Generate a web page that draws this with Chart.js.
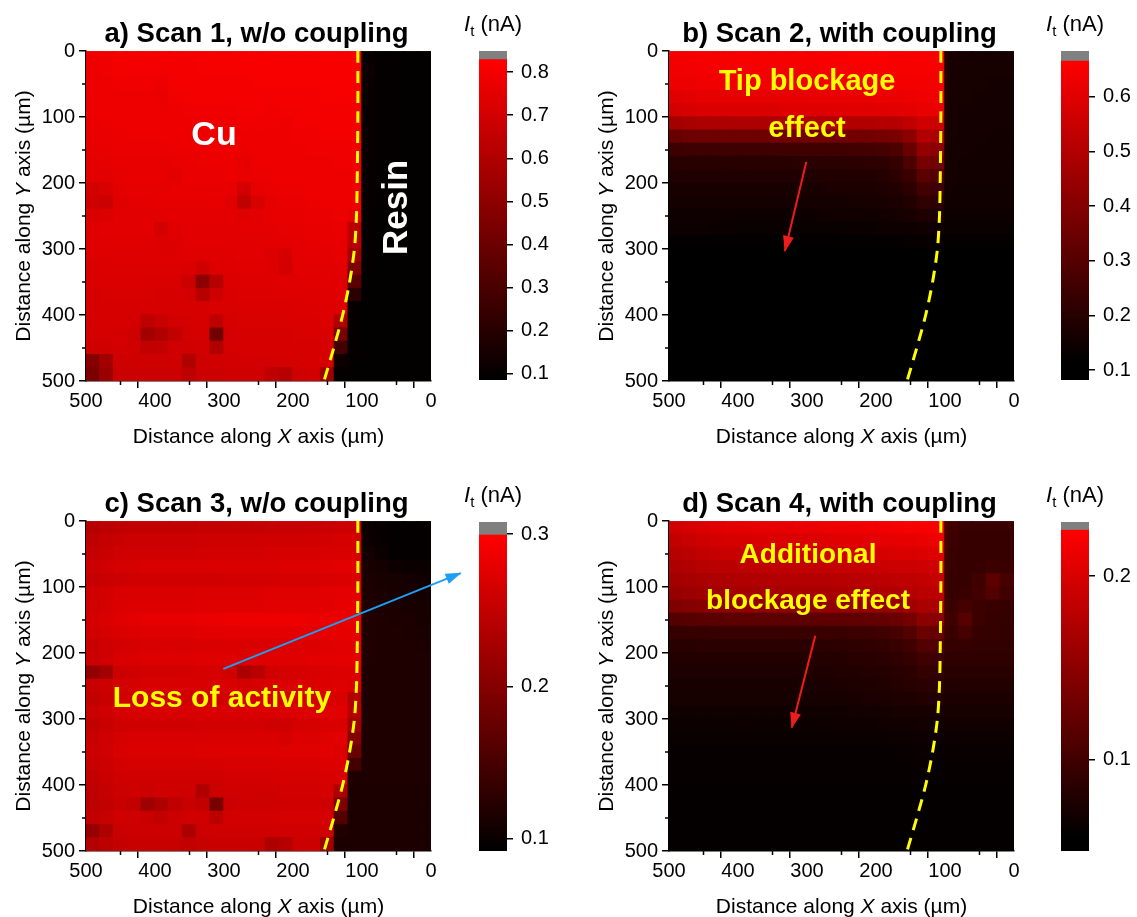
<!DOCTYPE html>
<html><head><meta charset="utf-8">
<script src="https://cdn.jsdelivr.net/npm/chart.js@4.4.1/dist/chart.umd.min.js"></script>
<style>html,body{margin:0;padding:0;background:#fff;}#wrap{position:relative;width:1137px;height:917px;overflow:hidden;background:#fff;}canvas{position:absolute;}</style>
</head><body><div id="wrap"></div>
<script>
// ---- grid (cell centres, µm) ----
const xCells = [490,470,450,430,410,390,370,350,330,310,290,270,250,230,210,190,170,150,130,110,90,70,50,30,10];
const yCells = [10,30,50,70,90,110,130,150,170,190,210,230,250,270,290,310,330,350,370,390,410,430,450,470,490];

// ---- tip current, pA (rows top->bottom, columns x=490 -> x=10) ----
const scan1 = [
[785,790,795,795,800,800,800,800,805,805,805,805,805,810,810,810,810,810,805,805,110,100,95,95,95],
[785,790,795,795,800,795,800,800,805,805,805,805,810,810,810,810,810,810,810,810,120,100,95,95,95],
[780,785,790,790,790,780,795,800,800,800,800,800,805,805,805,805,805,810,810,810,115,100,95,95,95],
[775,780,785,785,780,770,790,795,795,795,795,795,800,795,800,800,800,805,805,805,110,100,95,95,95],
[775,780,780,780,780,775,785,790,790,790,790,795,795,790,795,795,800,800,800,800,110,100,95,95,95],
[770,775,780,780,780,780,780,785,785,785,785,790,790,790,780,795,795,800,800,800,110,100,95,95,95],
[765,770,775,775,775,775,780,780,780,780,780,785,785,785,785,790,790,795,795,795,110,100,95,95,95],
[760,765,770,770,770,770,775,775,775,780,780,775,780,780,785,785,790,790,790,790,110,100,95,95,95],
[755,760,765,765,765,760,765,770,775,775,775,760,775,780,780,780,785,785,790,790,110,100,95,95,95],
[745,750,760,760,765,760,755,770,770,770,775,770,775,775,780,780,780,785,785,785,105,100,95,95,95],
[700,720,755,760,760,760,765,765,765,765,760,700,760,770,775,775,780,780,785,785,105,100,95,95,95],
[690,680,740,755,755,760,760,760,760,760,740,650,720,760,770,770,775,775,780,780,105,100,95,95,95],
[720,730,750,750,750,755,755,755,755,755,755,740,750,760,765,765,770,770,775,760,100,95,95,95,95],
[740,745,745,745,745,700,740,750,750,750,750,755,755,755,760,760,765,765,770,635,100,95,95,95,95],
[735,740,740,740,740,730,735,745,745,745,745,750,750,745,755,755,760,760,765,630,100,95,95,95,95],
[730,735,735,735,735,735,735,740,740,740,740,745,745,730,710,750,755,755,760,560,100,95,95,95,95],
[725,730,730,730,730,730,730,725,690,735,735,740,740,735,700,745,750,750,755,460,100,95,95,95,95],
[720,725,725,725,725,720,720,680,500,620,730,735,735,735,740,740,740,745,740,350,95,95,95,95,95],
[715,720,720,720,720,715,715,700,620,690,725,730,730,730,735,735,735,740,740,210,95,95,95,95,95],
[710,715,715,715,710,710,710,715,715,720,720,725,725,725,725,730,730,735,735,100,95,95,95,95,95],
[705,710,710,705,640,670,700,705,710,640,715,720,720,720,720,725,725,730,600,100,95,95,95,95,95],
[700,705,705,690,560,600,650,700,705,420,700,715,715,715,715,720,720,720,440,100,95,95,95,95,95],
[690,695,700,695,650,660,690,695,700,600,705,710,710,710,710,715,715,715,280,100,95,95,95,95,95],
[480,560,690,690,690,690,690,600,690,695,700,700,700,700,705,705,710,710,130,95,95,95,95,95,95],
[450,540,680,680,680,680,680,640,680,685,690,690,690,640,620,695,700,550,100,95,95,95,95,95,95]
];
const scan2 = [
[640,645,650,650,650,650,650,650,650,650,650,655,655,660,660,660,655,655,655,655,170,165,165,165,165],
[635,640,645,645,645,645,645,645,645,645,645,650,650,650,650,650,650,650,650,650,170,165,165,165,165],
[625,630,635,635,635,635,635,635,635,635,635,640,640,640,640,640,640,645,645,645,170,165,165,160,160],
[600,610,615,615,615,615,615,615,615,615,620,620,620,620,620,625,625,630,635,635,170,165,160,160,160],
[570,580,590,590,590,590,590,590,595,595,595,595,600,600,600,600,605,610,620,620,165,160,160,160,160],
[470,480,490,490,490,490,490,490,495,495,495,495,500,500,500,505,510,530,560,555,165,160,160,160,160],
[340,350,355,355,355,355,355,355,360,360,360,360,365,365,365,370,380,420,500,490,165,160,160,155,155],
[245,250,250,250,250,250,250,250,255,255,255,255,255,260,260,265,280,340,430,420,160,160,155,155,155],
[200,200,200,200,200,200,200,200,200,205,205,205,205,205,210,215,230,280,370,360,160,155,155,155,155],
[185,185,185,185,185,185,185,185,185,185,185,190,190,190,190,195,210,240,310,300,160,155,155,155,155],
[170,170,170,170,170,170,170,170,170,170,170,175,175,175,175,180,190,210,260,250,155,150,150,150,150],
[160,160,160,160,160,160,160,160,160,160,160,160,160,165,165,170,175,190,220,210,150,150,150,150,150],
[148,148,148,148,148,148,148,148,148,148,148,150,150,150,150,155,160,170,180,175,145,145,145,145,145],
[140,140,140,138,136,135,135,135,135,135,135,135,135,135,138,140,140,145,150,145,135,135,135,135,135],
[120,120,120,120,120,120,120,120,120,120,120,120,122,122,122,125,125,128,130,128,125,125,125,125,125],
[105,105,105,105,105,105,105,105,105,105,105,105,105,105,105,108,108,110,112,112,112,115,115,115,115],
[100,100,100,100,100,100,100,100,100,100,100,100,100,100,100,100,100,100,102,104,105,105,105,105,105],
[100,100,100,100,100,100,100,100,100,100,100,100,100,100,100,100,100,100,102,104,105,105,105,105,105],
[100,100,100,100,100,100,100,100,100,100,100,100,100,100,100,100,100,100,102,104,105,105,105,105,105],
[100,100,100,100,100,100,100,100,100,100,100,100,100,100,100,100,100,100,102,104,105,105,105,105,105],
[100,100,100,100,100,100,100,100,100,100,100,100,100,100,100,100,100,100,102,104,105,105,105,105,105],
[100,100,100,100,100,100,100,100,100,100,100,100,100,100,100,100,100,100,102,104,105,105,105,105,105],
[100,100,100,100,100,100,100,100,100,100,100,100,100,100,100,100,100,100,102,104,105,105,105,105,105],
[100,100,100,100,100,100,100,100,100,100,100,100,100,100,100,100,100,100,102,104,105,105,105,105,105],
[100,100,100,100,100,100,100,100,100,100,100,100,100,100,100,100,100,100,102,104,105,105,105,105,105]
];
const scan3 = [
[240,245,248,250,250,250,250,250,252,252,252,252,252,254,254,254,255,256,258,258,100,98,95,95,95],
[248,252,256,258,258,258,258,258,260,260,260,260,260,262,262,262,262,264,266,266,102,98,95,95,95],
[252,256,260,262,262,262,262,262,264,264,264,264,264,266,266,266,266,268,270,270,108,100,95,95,95],
[258,262,266,266,268,268,268,268,268,270,270,270,270,270,272,272,272,274,276,276,112,108,102,100,100],
[252,256,258,260,262,262,262,262,262,262,264,264,264,264,266,266,266,268,270,270,114,112,110,108,106],
[260,264,268,270,270,270,270,270,272,272,272,272,272,274,274,274,274,276,278,278,115,114,112,110,108],
[262,266,270,272,272,272,272,272,274,274,274,274,274,276,276,276,276,278,280,280,116,115,114,112,110],
[265,270,275,278,280,280,280,280,282,284,285,286,286,286,286,286,284,284,284,284,118,116,115,114,112],
[262,266,270,272,274,274,274,274,276,276,278,278,278,278,278,278,278,280,280,280,118,116,116,115,114],
[255,260,264,266,268,268,268,268,270,270,270,270,270,270,272,272,272,274,276,276,118,117,116,116,115],
[258,262,268,270,272,272,272,272,274,274,274,270,272,274,274,274,276,278,278,278,118,117,116,116,116],
[212,225,258,262,264,264,264,264,266,266,260,232,242,262,266,266,268,270,272,272,117,117,116,116,116],
[255,258,264,266,268,268,268,268,268,268,268,265,266,268,270,270,270,272,274,270,117,117,116,116,116],
[250,255,260,262,262,262,262,262,262,262,264,264,264,264,266,266,266,268,270,239,117,116,116,116,116],
[256,260,266,268,268,268,268,268,270,270,270,270,270,270,272,272,272,274,276,240,117,116,116,116,116],
[250,255,260,262,262,262,262,262,264,264,264,264,264,260,260,266,266,268,270,224,116,116,116,116,116],
[256,260,266,268,268,268,268,268,268,270,270,270,270,270,266,272,272,274,276,200,116,116,116,116,116],
[258,262,268,270,270,270,270,270,272,272,272,272,272,272,274,274,274,276,272,178,116,116,116,116,116],
[254,258,264,266,266,266,266,266,266,266,268,268,268,268,270,270,270,272,272,147,116,116,116,116,116],
[250,255,260,262,262,262,262,262,262,262,264,264,264,264,266,266,266,268,268,116,116,116,116,116,116],
[248,252,258,260,258,260,260,260,235,258,262,262,262,262,264,264,264,266,233,115,115,115,115,115,115],
[246,250,255,250,222,235,248,255,250,190,258,260,260,260,262,262,262,260,195,115,115,115,115,115,115],
[250,254,260,262,255,250,258,262,262,245,264,264,264,264,266,266,266,266,160,115,115,115,115,115,115],
[215,235,256,258,258,258,258,232,258,260,260,260,260,260,262,262,262,262,120,115,115,115,115,115,115],
[238,245,252,254,254,254,254,250,254,256,256,256,256,235,240,258,258,222,115,115,115,115,115,115,115]
];
const scan4 = [
[195,198,202,205,207,208,209,210,210,211,212,213,214,215,216,217,218,220,221,222,100,95,95,95,95],
[186,189,193,196,198,199,200,201,201,202,203,204,205,206,207,208,209,210,212,213,98,94,94,94,94],
[178,181,185,188,189,190,191,192,192,193,194,195,196,197,198,199,200,201,203,204,96,93,93,94,94],
[172,175,178,180,181,182,183,184,184,185,186,186,187,188,189,190,191,192,194,195,95,93,94,98,96],
[165,167,170,172,173,174,175,175,176,176,177,177,178,179,180,181,182,183,186,187,94,94,100,118,104],
[158,160,162,164,165,166,167,167,168,168,169,169,170,171,172,173,174,176,180,180,94,96,102,112,100],
[142,145,148,150,150,151,152,152,152,153,153,154,154,155,156,157,158,162,170,170,96,104,98,96,94],
[112,114,116,117,118,118,118,118,119,119,119,120,120,121,122,124,128,135,150,148,100,114,98,93,92],
[93,94,94,95,95,95,95,95,95,96,96,96,96,97,98,100,104,112,128,125,96,104,94,92,91],
[84,84,85,85,85,85,85,85,86,86,86,86,87,88,89,91,95,100,112,110,92,92,91,90,90],
[80,80,80,80,80,80,80,80,80,80,81,81,82,83,84,86,88,92,100,98,88,88,88,88,88],
[77,77,77,77,77,77,77,77,77,77,78,78,79,80,81,82,84,87,92,90,84,84,84,84,84],
[74,74,74,74,74,74,74,74,74,75,75,75,76,77,78,79,81,83,86,85,80,80,80,80,80],
[72,72,72,72,72,72,72,72,72,72,72,73,73,74,75,76,77,78,80,79,76,76,76,76,76],
[68,68,68,68,68,68,68,68,68,68,68,69,69,70,70,71,72,72,73,72,72,72,72,72,72],
[66,66,66,66,66,66,66,66,66,66,66,66,67,67,67,68,68,69,70,69,69,69,68,68,68],
[64,64,64,64,64,64,64,64,64,64,64,64,64,65,65,65,66,66,67,66,66,66,66,66,66],
[62,62,62,62,62,62,62,62,62,62,62,62,62,62,62,62,63,63,64,63,63,63,63,63,63],
[62,62,62,62,62,62,62,62,62,62,62,62,62,62,62,62,62,62,63,62,62,62,62,62,62],
[62,62,62,62,62,62,62,62,62,62,62,62,62,62,62,62,62,62,63,62,62,62,62,62,62],
[60,60,60,60,60,60,60,60,60,60,60,60,60,60,60,60,60,60,60,60,60,60,60,60,60],
[60,60,60,60,60,60,60,60,60,60,60,60,60,60,60,60,60,60,60,60,60,60,60,60,60],
[60,60,60,60,60,60,60,60,60,60,60,60,60,60,60,60,60,60,60,60,60,60,60,60,60],
[60,60,60,60,60,60,60,60,60,60,60,60,60,60,60,60,60,60,60,60,60,60,60,60,60],
[60,60,60,60,60,60,60,60,60,60,60,60,60,60,60,60,60,60,60,60,60,60,60,60,60]
];

// ---- colour scales (nA) and colourbar tick labels ----
const cm1 = {bottom:0.086, lo:0.086, vmax:0.831, top:0.849};
const cm2 = {bottom:0.0817, lo:0.115, vmax:0.667, top:0.684};
const cm3 = {bottom:0.0918, lo:0.0918, vmax:0.300, top:0.308};
const cm4 = {bottom:0.0502, lo:0.0576, vmax:0.2255, top:0.2295};
const cbTicks1 = [0.1,0.2,0.3,0.4,0.5,0.6,0.7,0.8];
const cbTicks2 = [0.1,0.2,0.3,0.4,0.5,0.6];
const cbTicks3 = [0.1,0.2,0.3];
const cbTicks4 = [0.1,0.2];

// ---- Cu / resin boundary (dashed line), µm ----
const boundaryX = [106,106,107,108,111,118,128,141,155];
const boundaryY = [0,100,200,250,300,350,400,450,500];

const FONT = "'Liberation Sans', Arial, Helvetica, sans-serif";
Chart.defaults.font.family = FONT;
Chart.defaults.color = '#000';
const YEL = '#ffff00';

const panels = [
  {key:'a', title:'a) Scan 1, w/o coupling', vals:scan1, cm:cm1, cbTicks:cbTicks1, left:0, top:0, H:470, cbLeft:450, cbW:120, cbPadTop:51, cbPadBot:90,
   texts:[{t:'Cu', x:314.5, y:142, size:34, color:'#fff'}, {t:'Resin', x:35, y:237, size:35, color:'#fff', rot:true}], arrows:[]},
  {key:'b', title:'b) Scan 2, with coupling', vals:scan2, cm:cm2, cbTicks:cbTicks2, left:583, top:0, H:470, cbLeft:1032, cbW:105, cbPadTop:51, cbPadBot:90,
   texts:[{t:'Tip blockage', x:300, y:59, size:29, color:YEL}, {t:'effect', x:300, y:130, size:29, color:YEL}],
   arrows:[{x:[301,332], y:[168,303], color:'#f01c1c', clip:true}]},
  {key:'c', title:'c) Scan 3, w/o coupling', vals:scan3, cm:cm3, cbTicks:cbTicks3, left:0, top:470, H:447, cbLeft:450, cbW:120, cbPadTop:52, cbPadBot:66,
   texts:[{t:'Loss of activity', x:303, y:282, size:30, color:YEL}],
   arrows:[{x:[301,-43], y:[224,79], color:'#1e9ff2', clip:false}]},
  {key:'d', title:'d) Scan 4, with coupling', vals:scan4, cm:cm4, cbTicks:cbTicks4, left:583, top:470, H:447, cbLeft:1032, cbW:105, cbPadTop:52, cbPadBot:66,
   texts:[{t:'Additional', x:298.5, y:64, size:28, color:YEL}, {t:'blockage effect', x:298.5, y:133, size:28, color:YEL}],
   arrows:[{x:[288,322], y:[174,313], color:'#f01c1c', clip:true}]}
];

function cmColor(v, cm){
  if (v > cm.vmax) return '#808080';
  if (v <= cm.lo) return 'rgb(0,0,0)';
  const t = Math.min(1,(v-cm.lo)/(cm.vmax-cm.lo));
  return 'rgb(' + Math.round(255*t) + ',0,0)';
}
function drawRich(ctx, parts, x, y){
  let w = 0;
  parts.forEach(p => { ctx.font = p.f; w += ctx.measureText(p.t).width; });
  let cx = x - w/2;
  ctx.textAlign = 'left'; ctx.textBaseline = 'alphabetic';
  parts.forEach(p => { ctx.font = p.f; ctx.fillText(p.t, cx, y + (p.dy||0)); cx += ctx.measureText(p.t).width; });
}
const wrap = document.getElementById('wrap');
function addCanvas(l,t,w,h){
  const c = document.createElement('canvas');
  c.width = w; c.height = h;
  c.style.left = l+'px'; c.style.top = t+'px'; c.style.width = w+'px'; c.style.height = h+'px';
  wrap.appendChild(c); return c;
}
const n21 = '21px ' + FONT, i21 = 'italic 21px ' + FONT;

function heatmap(p){
  const cv = addCanvas(p.left, p.top, 475, p.H);
  const hy = (yCells[1]-yCells[0])/2;
  const cells = [], colors = [];
  p.vals.forEach((row,i) => row.forEach((v,j) => {
    cells.push({x:xCells[j], y:[yCells[i]-hy, yCells[i]+hy]});
    colors.push(cmColor(v/1000, p.cm));
  }));
  const datasets = [
    {type:'bar', data:cells, backgroundColor:colors, borderWidth:0, barPercentage:1, categoryPercentage:1, grouped:false, inflateAmount:0.7, order:10},
    {type:'line', data:boundaryY.map((y,k)=>({x:boundaryX[k], y})), borderColor:YEL, borderWidth:3, borderDash:[12,8], pointRadius:0, tension:0.3, fill:false, order:1}
  ];
  p.arrows.forEach(a => datasets.push({type:'line', data:a.x.map((x,k)=>({x, y:a.y[k]})), borderColor:a.color, backgroundColor:a.color, borderWidth:2, pointRadius:0, fill:false, clip: a.clip ? undefined : false, order:0}));
  const tickCol = c => (c.tick && c.tick.value % 100 === 0) ? '#000' : 'rgba(0,0,0,0)';
  const deco = {
    id:'deco'+p.key,
    afterDatasetsDraw(chart){
      const ctx = chart.ctx, xs = chart.scales.x, ys = chart.scales.y;
      ctx.save();
      p.arrows.forEach((a,k) => {
        const meta = chart.getDatasetMeta(2+k);
        const p0 = meta.data[0], p1 = meta.data[1];
        const dx = p1.x-p0.x, dy = p1.y-p0.y, L = Math.hypot(dx,dy), ux = dx/L, uy = dy/L;
        const len = 15, hw = 5.5, bx = p1.x-ux*len, by = p1.y-uy*len;
        ctx.fillStyle = a.color;
        ctx.beginPath(); ctx.moveTo(p1.x+ux, p1.y+uy); ctx.lineTo(bx-uy*hw, by+ux*hw); ctx.lineTo(bx+uy*hw, by-ux*hw); ctx.closePath(); ctx.fill();
      });
      p.texts.forEach(t => {
        const px = xs.getPixelForValue(t.x), py = ys.getPixelForValue(t.y);
        ctx.fillStyle = t.color; ctx.font = 'bold ' + t.size + 'px ' + FONT;
        ctx.textAlign = 'center'; ctx.textBaseline = 'alphabetic';
        if (t.rot){ ctx.save(); ctx.translate(px,py); ctx.rotate(-Math.PI/2); ctx.fillText(t.t,0,0); ctx.restore(); }
        else ctx.fillText(t.t, px, py);
      });
      ctx.restore();
    },
    afterDraw(chart){
      const ctx = chart.ctx, ca = chart.chartArea, xs = chart.scales.x, ys = chart.scales.y;
      ctx.save();
      ctx.fillStyle = '#000';
      ctx.font = 'bold 27.5px ' + FONT; ctx.textAlign = 'center'; ctx.textBaseline = 'alphabetic';
      ctx.fillText(p.title, (ca.left+ca.right)/2 - 2, ca.top-9);
      drawRich(ctx, [{t:'Distance along ', f:n21},{t:'X', f:i21},{t:' axis (µm)', f:n21}], (ca.left+ca.right)/2, ca.bottom+62);
      ctx.save(); ctx.translate(ca.left-56, (ca.top+ca.bottom)/2); ctx.rotate(-Math.PI/2);
      drawRich(ctx, [{t:'Distance along ', f:n21},{t:'Y', f:i21},{t:' axis (µm)', f:n21}], 0, 0);
      ctx.restore();
      ctx.strokeStyle = '#000'; ctx.lineWidth = 1.5;
      [50,150,250,350,450].forEach(v => {
        const x = xs.getPixelForValue(v), y = ys.getPixelForValue(v);
        ctx.beginPath(); ctx.moveTo(x, ca.bottom); ctx.lineTo(x, ca.bottom+4); ctx.stroke();
        ctx.beginPath(); ctx.moveTo(ca.left, y); ctx.lineTo(ca.left-4, y); ctx.stroke();
      });
      ctx.restore();
    }
  };
  const tickFont = {size:20, family:FONT};
  new Chart(cv, {
    type:'bar',
    data:{datasets},
    options:{
      responsive:false, animation:false, devicePixelRatio:1, events:[],
      layout:{padding:{top:51, right:44, left:0, bottom:0}},
      plugins:{legend:{display:false}, tooltip:{enabled:false}, title:{display:false}},
      scales:{
        x:{type:'linear', min:0, max:500, reverse:true, offset:false, z:1,
           ticks:{stepSize:50, autoSkip:false, maxRotation:0, padding:1, font:tickFont, color:'#000', callback:v => v%100===0 ? String(v) : ''},
           grid:{drawOnChartArea:false, drawTicks:true, tickLength:7, color:tickCol, lineWidth:1.5},
           border:{display:true, color:'#000', width:1.5},
           afterFit:s => { s.height = p.H - 381; }},
        y:{type:'linear', min:0, max:500, reverse:true, z:1,
           ticks:{stepSize:50, autoSkip:false, padding:4, font:tickFont, color:'#000', callback:v => v%100===0 ? String(v) : ''},
           grid:{drawOnChartArea:false, drawTicks:true, tickLength:7, color:tickCol, lineWidth:1.5},
           border:{display:true, color:'#000', width:1.5},
           afterFit:s => { s.width = 86; }}
      }
    },
    plugins:[deco]
  });
}

function colorbar(p){
  const cv = addCanvas(p.cbLeft, p.top, p.cbW, p.H);
  const cm = p.cm, N = 120, lv = [], cols = [];
  if (cm.lo > cm.bottom){ lv.push({x:0, y:[cm.bottom, cm.lo]}); cols.push('#000'); }
  for (let k=0;k<N;k++){
    const a = cm.lo+(cm.vmax-cm.lo)*k/N, b = cm.lo+(cm.vmax-cm.lo)*(k+1)/N;
    lv.push({x:0, y:[a,b]}); cols.push(cmColor((a+b)/2, cm));
  }
  lv.push({x:0, y:[cm.vmax, cm.top]}); cols.push('#808080');
  const deco = {
    id:'cb'+p.key,
    afterDraw(chart){
      const ctx = chart.ctx, ca = chart.chartArea;
      ctx.save(); ctx.fillStyle = '#000';
      drawRich(ctx, [{t:'I', f:'italic 22px '+FONT},{t:'t', f:'15px '+FONT, dy:5},{t:' (nA)', f:'22px '+FONT}], (ca.left+ca.right)/2, ca.top-20);
      ctx.restore();
    }
  };
  new Chart(cv, {
    type:'bar',
    data:{datasets:[
      {data:lv, backgroundColor:cols, borderWidth:0, barThickness:28, grouped:false, inflateAmount:0.5},
      {data:[{x:0, y:[cm.bottom, cm.top]}], backgroundColor:'rgba(0,0,0,0)', borderColor:'#9a9a9a', borderWidth:1, borderSkipped:false, barThickness:28, grouped:false, inflateAmount:0}
    ]},
    options:{
      responsive:false, animation:false, devicePixelRatio:1, events:[],
      layout:{padding:{top:p.cbPadTop, bottom:p.cbPadBot, left:29, right:0}},
      plugins:{legend:{display:false}, tooltip:{enabled:false}},
      scales:{
        x:{type:'linear', display:false, min:-1, max:1, offset:false},
        y:{position:'right', min:cm.bottom, max:cm.top,
           afterBuildTicks:s => { s.ticks = p.cbTicks.map(v => ({value:v})); },
           ticks:{font:{size:20, family:FONT}, color:'#000', padding:8, callback:v => Number(v).toFixed(1)},
           grid:{drawOnChartArea:false, drawTicks:true, tickLength:6, color:'#000', lineWidth:1.5},
           border:{display:false},
           afterFit:s => { s.width = p.cbW - 29 - 28; }}
      }
    },
    plugins:[deco]
  });
}

panels.forEach(p => { heatmap(p); colorbar(p); });
</script></body></html>
